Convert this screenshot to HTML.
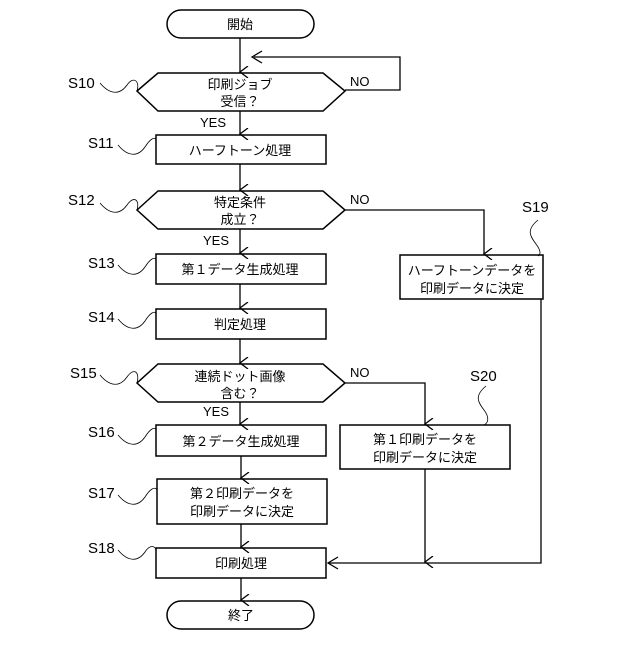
<!DOCTYPE html>
<html><head><meta charset="utf-8"><style>
html,body{margin:0;padding:0;background:#fff}
svg text{font-family:"Liberation Sans","Noto Sans CJK JP",sans-serif;fill:#000}
.j{font-size:13px}
.l{font-size:15px}
</style></head><body>
<svg width="640" height="640" viewBox="0 0 640 640" xmlns="http://www.w3.org/2000/svg">
<defs><marker id="a" markerWidth="12" markerHeight="12" refX="6" refY="10" orient="auto" markerUnits="userSpaceOnUse">
<path d="M0,2 L6,10 L12,2" fill="none" stroke="#000" stroke-width="1.3"/></marker>
<marker id="b" markerWidth="12" markerHeight="12" refX="10" refY="6" orient="auto-start-reverse" markerUnits="userSpaceOnUse">
<path d="M2,0 L10,6 L2,12" fill="none" stroke="#000" stroke-width="1.3"/></marker></defs>
<g fill="none" stroke="#000" stroke-width="1.5">
<rect x="167" y="10" width="147" height="28" rx="14"/>
<polygon points="137,91 158,73 323,73 345,91 323,111 158,111"/>
<rect x="156" y="135" width="170" height="29"/>
<polygon points="137,210 158,191 323,191 345,210 323,229 158,229"/>
<rect x="156" y="254" width="170" height="30"/>
<rect x="400" y="255" width="143" height="44"/>
<rect x="156" y="309" width="170" height="30"/>
<polygon points="137,383 158,364 323,364 345,383 323,402 158,402"/>
<rect x="156" y="425" width="170" height="31"/>
<rect x="340" y="425" width="170" height="44"/>
<rect x="157" y="479" width="170" height="45"/>
<rect x="156" y="548" width="170" height="30"/>
<rect x="167" y="601" width="147" height="28" rx="14"/>
</g>
<g fill="none" stroke="#000" stroke-width="1.3">
<line x1="240" y1="38" x2="240" y2="72" marker-end="url(#a)"/>
<polyline points="345,90 400,90 400,57 254,57"/>
<path d="M262,51 L252,57 L262,63"/>
<line x1="240" y1="111" x2="240" y2="134" marker-end="url(#a)"/>
<line x1="240" y1="164" x2="240" y2="190" marker-end="url(#a)"/>
<line x1="240" y1="229" x2="240" y2="253" marker-end="url(#a)"/>
<polyline points="345,210 484,210 484,254" marker-end="url(#a)"/>
<line x1="240" y1="284" x2="240" y2="308" marker-end="url(#a)"/>
<line x1="240" y1="339" x2="240" y2="363" marker-end="url(#a)"/>
<polyline points="345,383 425,383 425,424" marker-end="url(#a)"/>
<line x1="240" y1="402" x2="240" y2="424" marker-end="url(#a)"/>
<line x1="241" y1="456" x2="241" y2="478" marker-end="url(#a)"/>
<line x1="241" y1="524" x2="241" y2="547" marker-end="url(#a)"/>
<line x1="241" y1="578" x2="241" y2="600" marker-end="url(#a)"/>
<line x1="425" y1="469" x2="425" y2="562" marker-end="url(#a)"/>
<polyline points="541,299 541,563 328,563"/>
<path d="M338,557 L328,563 L338,569"/>
</g>
<g fill="none" stroke="#000" stroke-width="0.8">
<path d="M100,83 C110,95 120,95 127,85 C134,75 140,82 137,91"/>
<path d="M118,145 C128,157 138,157 145,147 C150,139 155,136 156,140"/>
<path d="M100,203 C110,215 120,215 127,205 C134,195 140,200 137,210"/>
<path d="M118,265 C128,277 138,277 145,267 C150,259 155,256 156,260"/>
<path d="M118,319 C128,331 138,331 145,321 C150,313 155,310 156,314"/>
<path d="M100,375 C110,387 120,387 127,377 C134,367 140,372 137,383"/>
<path d="M118,435 C128,447 138,447 145,437 C150,429 155,426 156,430"/>
<path d="M118,495 C128,507 138,507 145,497 C150,489 155,486 157,490"/>
<path d="M118,550 C128,562 138,562 145,552 C150,544 155,546 156,550"/>
<path d="M538,220 C526,230 530,236 536,244 C542,252 540,255 538,256"/>
<path d="M486,386 C474,396 478,402 484,410 C490,418 488,423 484,425"/>
</g>
<g class="l">
<text x="68" y="88">S10</text><text x="88" y="148">S11</text><text x="68" y="205">S12</text>
<text x="88" y="268">S13</text><text x="88" y="322">S14</text><text x="70" y="378">S15</text>
<text x="88" y="437">S16</text><text x="88" y="498">S17</text><text x="88" y="553">S18</text>
<text x="522" y="212">S19</text><text x="470" y="381">S20</text>
</g>
<g class="j" text-anchor="middle">
<text x="240" y="29">開始</text>
<text x="240" y="89">印刷ジョブ</text><text x="240" y="106">受信？</text>
<text x="240" y="155">ハーフトーン処理</text>
<text x="240" y="207">特定条件</text><text x="240" y="224">成立？</text>
<text x="240" y="274">第１データ生成処理</text>
<text x="472" y="275">ハーフトーンデータを</text><text x="472" y="293">印刷データに決定</text>
<text x="240" y="329">判定処理</text>
<text x="240" y="381">連続ドット画像</text><text x="240" y="398">含む？</text>
<text x="241" y="446">第２データ生成処理</text>
<text x="425" y="444">第１印刷データを</text><text x="425" y="462">印刷データに決定</text>
<text x="242" y="498">第２印刷データを</text><text x="242" y="516">印刷データに決定</text>
<text x="241" y="568">印刷処理</text>
<text x="241" y="620">終了</text>
</g>
<g class="j">
<text x="200" y="127">YES</text><text x="203" y="245">YES</text><text x="203" y="416">YES</text>
<text x="350" y="86">NO</text><text x="350" y="204">NO</text><text x="350" y="377">NO</text>
</g>
</svg>
</body></html>
